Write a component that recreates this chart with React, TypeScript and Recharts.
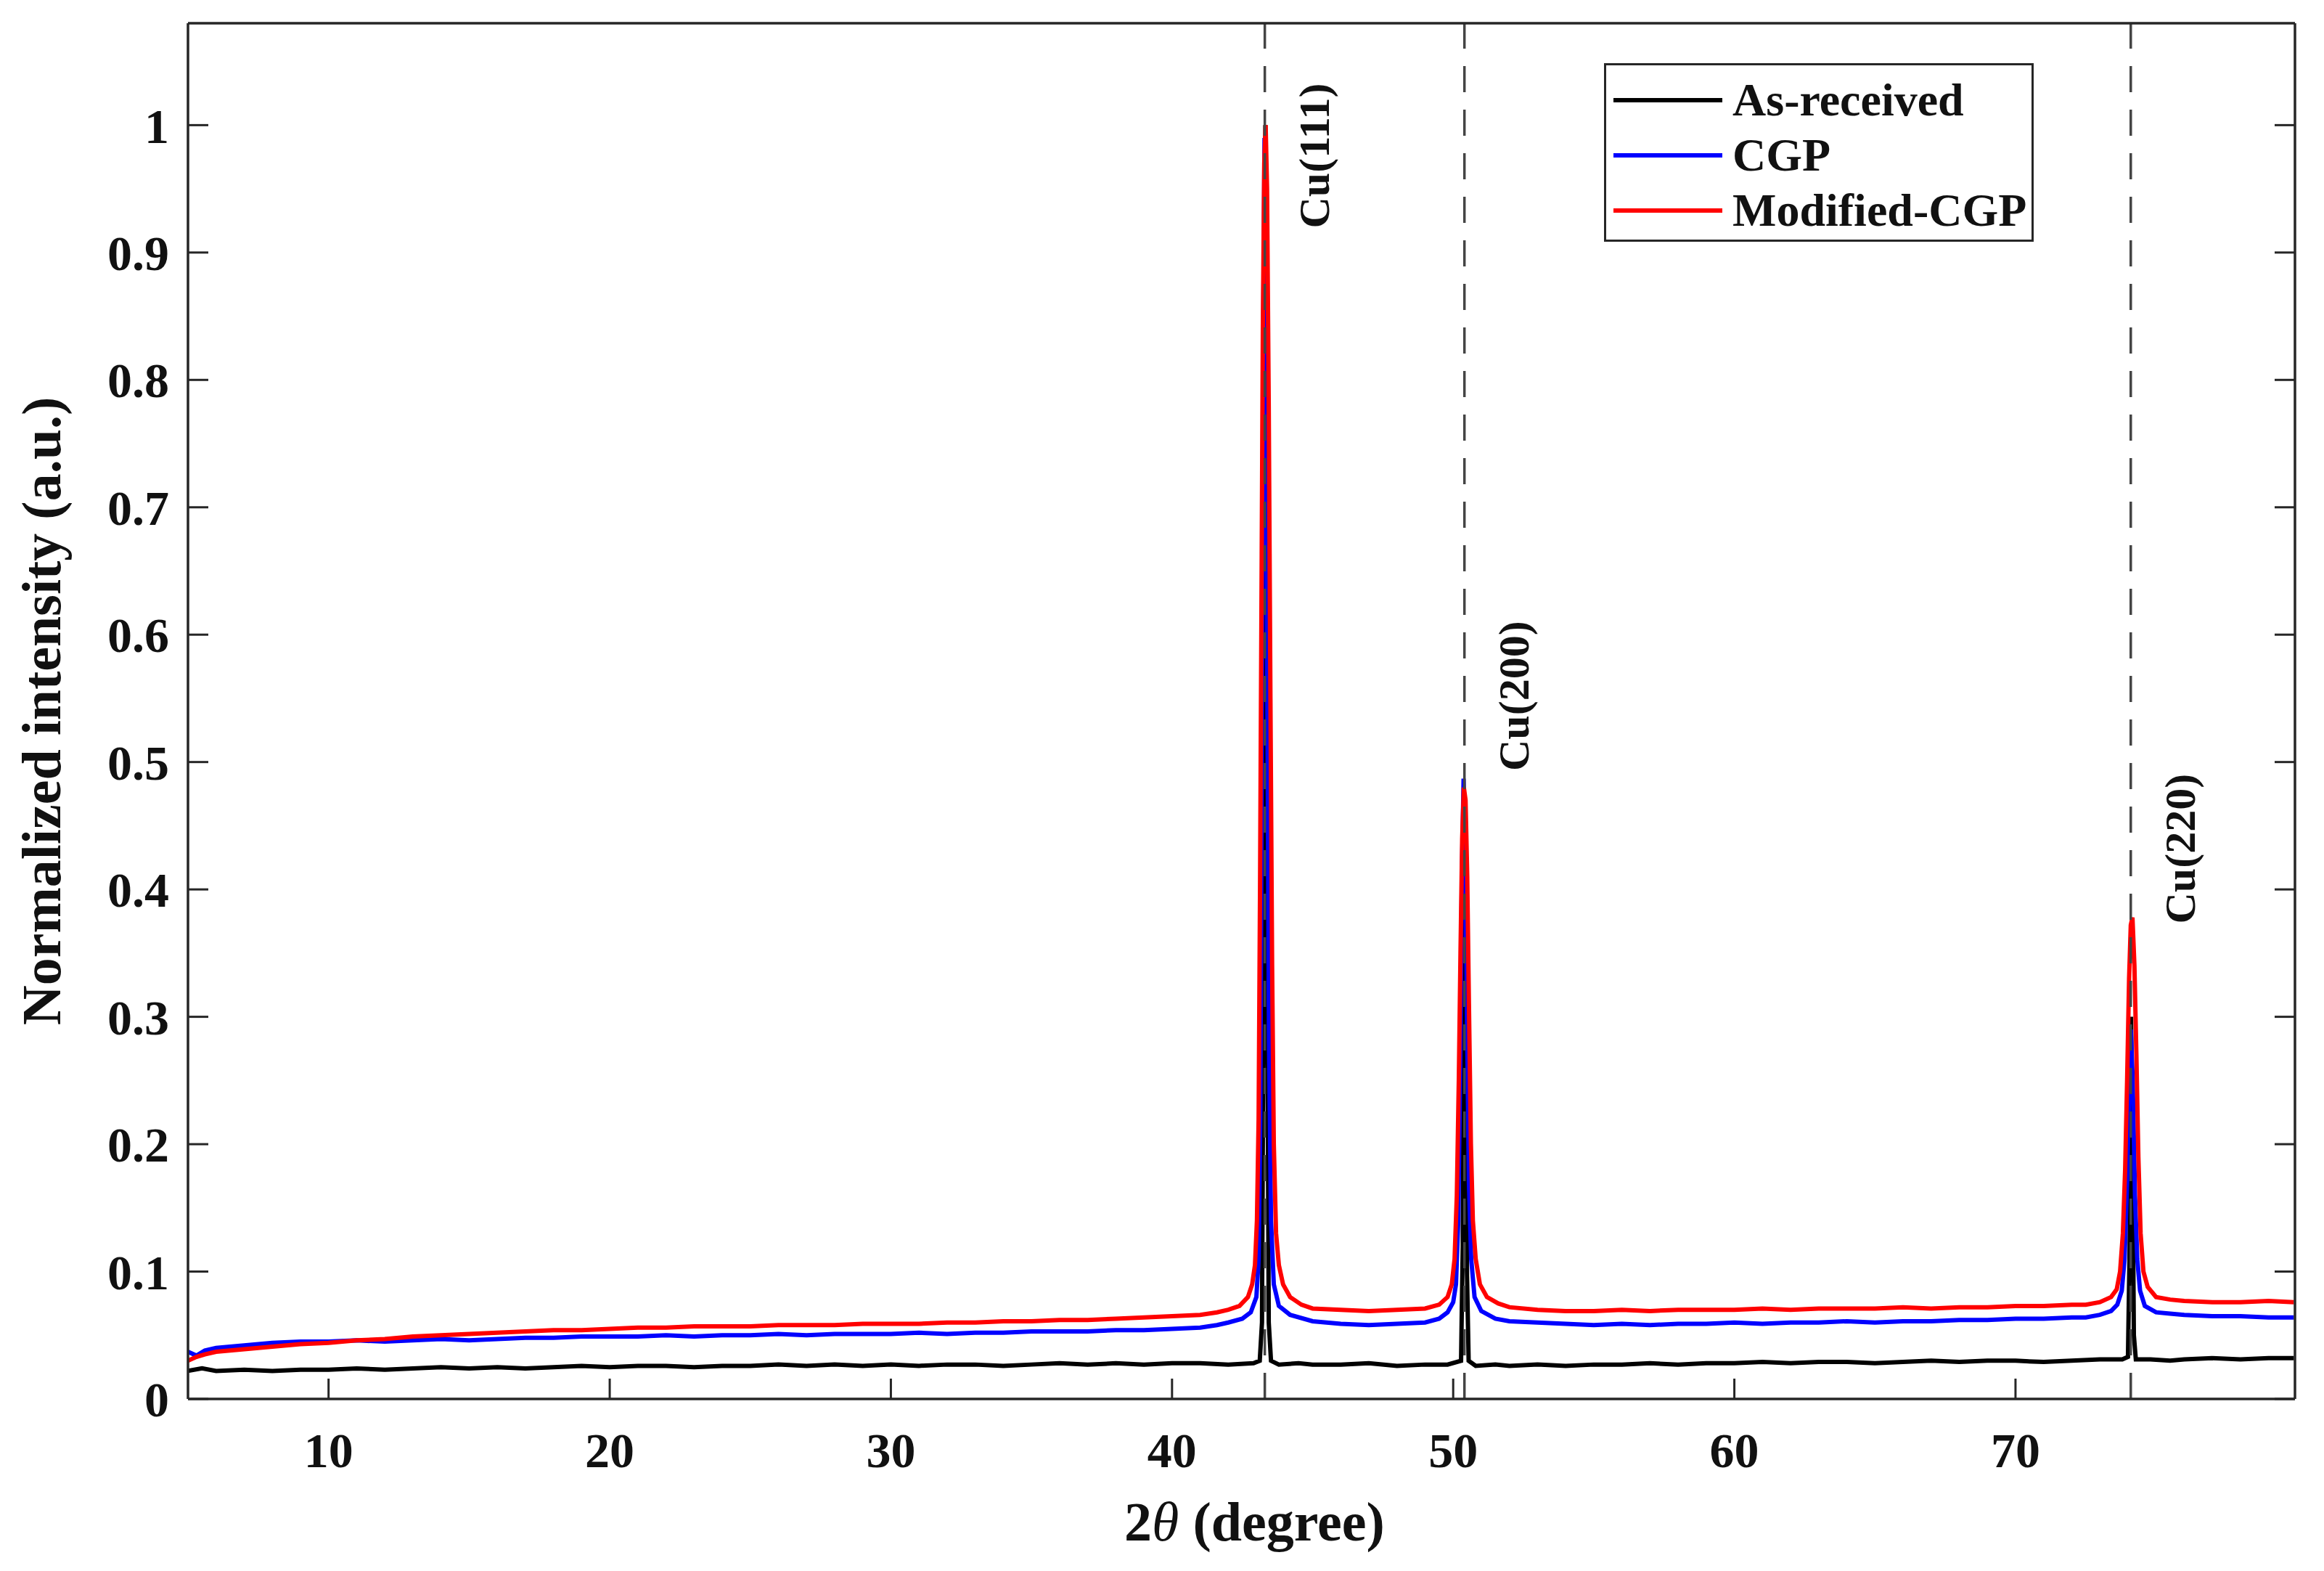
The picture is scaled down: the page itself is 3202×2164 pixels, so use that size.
import React from "react";
import { LineChart, Line, XAxis, YAxis, ReferenceLine, ReferenceDot, Legend } from "recharts";

const FONT = '"Liberation Serif", "Times New Roman", Times, serif';

// [2theta, normalized intensity]
const asReceived: [number, number][] = [
  [5, 0.022], [5.5, 0.024], [6, 0.022], [7, 0.023], [8, 0.022], [9, 0.023], [10, 0.023],
  [11, 0.024], [12, 0.023], [13, 0.024], [14, 0.025], [15, 0.024], [16, 0.025], [17, 0.024],
  [18, 0.025], [19, 0.026], [20, 0.025], [21, 0.026], [22, 0.026], [23, 0.025], [24, 0.026],
  [25, 0.026], [26, 0.027], [27, 0.026], [28, 0.027], [29, 0.026], [30, 0.027], [31, 0.026],
  [32, 0.027], [33, 0.027], [34, 0.026], [35, 0.027], [36, 0.028], [37, 0.027], [38, 0.028],
  [39, 0.027], [40, 0.028], [41, 0.028], [42, 0.027], [42.9, 0.028], [43.12, 0.03],
  [43.2, 0.06], [43.25, 0.3], [43.29, 0.8], [43.32, 1.0], [43.35, 0.8], [43.39, 0.3],
  [43.44, 0.06], [43.52, 0.03], [43.8, 0.027], [44.5, 0.028], [45, 0.027], [46, 0.027],
  [47, 0.028], [48, 0.026], [49, 0.027], [49.8, 0.027], [50.28, 0.03], [50.34, 0.12],
  [50.39, 0.42], [50.44, 0.35], [50.49, 0.1], [50.55, 0.03], [50.8, 0.026], [51.5, 0.027],
  [52, 0.026], [53, 0.027], [54, 0.026], [55, 0.027], [56, 0.027], [57, 0.028], [58, 0.027],
  [59, 0.028], [60, 0.028], [61, 0.029], [62, 0.028], [63, 0.029], [64, 0.029], [65, 0.028],
  [66, 0.029], [67, 0.03], [68, 0.029], [69, 0.03], [70, 0.03], [71, 0.029], [72, 0.03],
  [73, 0.031], [73.8, 0.031], [74.0, 0.033], [74.06, 0.12], [74.11, 0.3], [74.16, 0.2],
  [74.21, 0.05], [74.28, 0.031], [74.8, 0.031], [75.5, 0.03], [76, 0.031], [77, 0.032],
  [78, 0.031], [79, 0.032], [79.9, 0.032],
];

const cgp: [number, number][] = [
  [5, 0.037], [5.3, 0.034], [5.6, 0.038], [6, 0.04], [7, 0.042], [8, 0.044], [9, 0.045],
  [10, 0.045], [11, 0.046], [12, 0.045], [13, 0.046], [14, 0.047], [15, 0.046], [16, 0.047],
  [17, 0.048], [18, 0.048], [19, 0.049], [20, 0.049], [21, 0.049], [22, 0.05], [23, 0.049],
  [24, 0.05], [25, 0.05], [26, 0.051], [27, 0.05], [28, 0.051], [29, 0.051], [30, 0.051],
  [31, 0.052], [32, 0.051], [33, 0.052], [34, 0.052], [35, 0.053], [36, 0.053], [37, 0.053],
  [38, 0.054], [39, 0.054], [40, 0.055], [41, 0.056], [41.6, 0.058], [42, 0.06], [42.5, 0.063],
  [42.8, 0.068], [43.0, 0.08], [43.08, 0.11], [43.14, 0.22], [43.19, 0.5], [43.24, 0.82],
  [43.29, 0.99], [43.34, 0.86], [43.39, 0.55], [43.45, 0.28], [43.52, 0.14], [43.62, 0.09],
  [43.8, 0.073], [44.2, 0.066], [45, 0.061], [46, 0.059], [47, 0.058], [48, 0.059], [49, 0.06],
  [49.5, 0.063], [49.8, 0.068], [50.0, 0.076], [50.1, 0.09], [50.18, 0.14], [50.25, 0.26],
  [50.31, 0.41], [50.37, 0.487], [50.43, 0.43], [50.49, 0.3], [50.56, 0.17], [50.64, 0.11],
  [50.76, 0.08], [51.0, 0.069], [51.5, 0.063], [52, 0.061], [53, 0.06], [54, 0.059],
  [55, 0.058], [56, 0.059], [57, 0.058], [58, 0.059], [59, 0.059], [60, 0.06], [61, 0.059],
  [62, 0.06], [63, 0.06], [64, 0.061], [65, 0.06], [66, 0.061], [67, 0.061], [68, 0.062],
  [69, 0.062], [70, 0.063], [71, 0.063], [72, 0.064], [72.5, 0.064], [73, 0.066], [73.4, 0.069],
  [73.62, 0.074], [73.78, 0.085], [73.88, 0.11], [73.97, 0.17], [74.04, 0.24], [74.1, 0.29],
  [74.17, 0.25], [74.25, 0.16], [74.33, 0.11], [74.43, 0.085], [74.6, 0.073], [75, 0.068],
  [75.5, 0.067], [76, 0.066], [77, 0.065], [78, 0.065], [79, 0.064], [79.9, 0.064],
];

const modifiedCgp: [number, number][] = [
  [5, 0.03], [5.3, 0.033], [5.6, 0.035], [6, 0.037], [7, 0.039], [8, 0.041], [9, 0.043],
  [10, 0.044], [11, 0.046], [12, 0.047], [13, 0.049], [14, 0.05], [15, 0.051], [16, 0.052],
  [17, 0.053], [18, 0.054], [19, 0.054], [20, 0.055], [21, 0.056], [22, 0.056], [23, 0.057],
  [24, 0.057], [25, 0.057], [26, 0.058], [27, 0.058], [28, 0.058], [29, 0.059], [30, 0.059],
  [31, 0.059], [32, 0.06], [33, 0.06], [34, 0.061], [35, 0.061], [36, 0.062], [37, 0.062],
  [38, 0.063], [39, 0.064], [40, 0.065], [41, 0.066], [41.6, 0.068], [42.0, 0.07], [42.4, 0.073],
  [42.7, 0.08], [42.85, 0.09], [42.95, 0.105], [43.02, 0.14], [43.08, 0.22], [43.13, 0.4],
  [43.18, 0.62], [43.23, 0.84], [43.28, 0.97], [43.33, 1.0], [43.38, 0.95], [43.44, 0.78],
  [43.5, 0.55], [43.56, 0.34], [43.62, 0.2], [43.7, 0.13], [43.8, 0.105], [43.95, 0.09],
  [44.2, 0.08], [44.6, 0.074], [45, 0.071], [46, 0.07], [47, 0.069], [48, 0.07], [49, 0.071],
  [49.5, 0.074], [49.8, 0.08], [49.95, 0.09], [50.05, 0.11], [50.13, 0.16], [50.2, 0.25],
  [50.26, 0.35], [50.32, 0.44], [50.38, 0.48], [50.44, 0.47], [50.5, 0.41], [50.56, 0.31],
  [50.63, 0.2], [50.7, 0.14], [50.8, 0.11], [50.95, 0.09], [51.2, 0.08], [51.6, 0.075],
  [52, 0.072], [53, 0.07], [54, 0.069], [55, 0.069], [56, 0.07], [57, 0.069], [58, 0.07],
  [59, 0.07], [60, 0.07], [61, 0.071], [62, 0.07], [63, 0.071], [64, 0.071], [65, 0.071],
  [66, 0.072], [67, 0.071], [68, 0.072], [69, 0.072], [70, 0.073], [71, 0.073], [72, 0.074],
  [72.5, 0.074], [73, 0.076], [73.4, 0.08], [73.6, 0.086], [73.72, 0.1], [73.82, 0.13],
  [73.9, 0.18], [73.97, 0.25], [74.04, 0.33], [74.1, 0.372], [74.16, 0.378], [74.23, 0.34],
  [74.3, 0.27], [74.37, 0.19], [74.45, 0.13], [74.55, 0.1], [74.7, 0.088], [75, 0.08],
  [75.5, 0.078], [76, 0.077], [77, 0.076], [78, 0.076], [79, 0.077], [79.9, 0.076],
];

const xTicks = [10, 20, 30, 40, 50, 60, 70];
const yTicks = [0, 0.1, 0.2, 0.3, 0.4, 0.5, 0.6, 0.7, 0.8, 0.9, 1];

const peakPositions = [43.3, 50.4, 74.1];
const peakNames = ["Cu(111)", "Cu(200)", "Cu(220)"];
const peakLabelStart = [0.919, 0.493, 0.373];

const X_DOMAIN: [number, number] = [5, 79.94];
const Y_DOMAIN: [number, number] = [0, 1.08];
const AXIS = "#262626";
const TICK = -28;

const toPoints = (arr: [number, number][]) => arr.map(([x, y]) => ({ x, y }));

const tickStyle = { fill: "#111", fontSize: 68, fontFamily: FONT, fontWeight: 700 };

function PeakLabel(props: any) {
  const { cx, cy, text } = props;
  const x = cx + 88;
  return (
    <text
      x={x}
      y={cy}
      transform={`rotate(-90 ${x} ${cy})`}
      fontFamily={FONT}
      fontWeight={700}
      fontSize={60}
      fill="#111"
      textAnchor="start"
    >
      {text}
    </text>
  );
}

function LegendBox(props: any) {
  const items = props.payload || [];
  return (
    <div
      style={{
        width: 592,
        height: 246,
        boxSizing: "border-box",
        border: `3px solid ${AXIS}`,
        background: "#fff",
        position: "relative",
        fontFamily: FONT,
        fontWeight: 700,
        fontSize: 64,
        color: "#111",
      }}
    >
      {items.map((it: any, i: number) => (
        <div
          key={it.value}
          style={{
            position: "absolute",
            left: 0,
            top: 8 + i * 76,
            height: 80,
            display: "flex",
            alignItems: "center",
            whiteSpace: "nowrap",
          }}
        >
          <div style={{ marginLeft: 10, width: 150, height: 6, background: it.color }} />
          <span style={{ marginLeft: 14, lineHeight: 1 }}>{it.value}</span>
        </div>
      ))}
    </div>
  );
}

export default function App() {
  return (
    <div style={{ position: "absolute", left: 0, top: 0, background: "#fff" }}>
      <LineChart width={3202} height={2164} margin={{ top: 31, right: 39, bottom: 0, left: 0 }}>
        <XAxis
          xAxisId="b"
          type="number"
          dataKey="x"
          domain={X_DOMAIN}
          allowDataOverflow
          ticks={xTicks}
          height={237}
          axisLine={{ stroke: AXIS, strokeWidth: 3.5 }}
          tickLine={{ stroke: AXIS, strokeWidth: 3 }}
          tickSize={TICK}
          tickMargin={74}
          tick={tickStyle}
          label={{
            content: (p: any) => {
              const vb = p.viewBox;
              return (
                <text
                  x={vb.x + vb.width / 2 + 18}
                  y={vb.y + 195}
                  textAnchor="middle"
                  fontFamily={FONT}
                  fontWeight={700}
                  fontSize={76}
                  fill="#111"
                >
                  2<tspan fontStyle="italic" fontWeight={400}>θ</tspan> (degree)
                </text>
              );
            },
          }}
        />
        <XAxis
          xAxisId="t"
          orientation="top"
          type="number"
          domain={X_DOMAIN}
          allowDataOverflow
          ticks={xTicks}
          height={1}
          axisLine={{ stroke: AXIS, strokeWidth: 3.5 }}
          tickLine={{ stroke: AXIS, strokeWidth: 3 }}
          tickSize={TICK}
          tick={() => <g />}
        />
        <YAxis
          yAxisId="l"
          type="number"
          domain={Y_DOMAIN}
          allowDataOverflow
          ticks={yTicks}
          width={259}
          axisLine={{ stroke: AXIS, strokeWidth: 3.5 }}
          tickLine={{ stroke: AXIS, strokeWidth: 3 }}
          tickSize={TICK}
          tickMargin={54}
          tick={tickStyle}
          label={{
            content: (p: any) => {
              const vb = p.viewBox;
              const x = vb.x + 83;
              const y = vb.y + vb.height / 2;
              return (
                <text
                  x={x}
                  y={y}
                  transform={`rotate(-90 ${x} ${y})`}
                  textAnchor="middle"
                  fontFamily={FONT}
                  fontWeight={700}
                  fontSize={76}
                  fill="#111"
                >
                  Normalized intensity (a.u.)
                </text>
              );
            },
          }}
        />
        <YAxis
          yAxisId="r"
          orientation="right"
          type="number"
          domain={Y_DOMAIN}
          allowDataOverflow
          ticks={yTicks}
          width={1}
          axisLine={{ stroke: AXIS, strokeWidth: 3.5 }}
          tickLine={{ stroke: AXIS, strokeWidth: 3 }}
          tickSize={TICK}
          tick={() => <g />}
        />

        <Line
          data={toPoints(asReceived)}
          dataKey="y"
          name="As-received"
          xAxisId="b"
          yAxisId="l"
          type="linear"
          stroke="#000000"
          strokeWidth={6}
          dot={false}
          isAnimationActive={false}
        />
        <Line
          data={toPoints(cgp)}
          dataKey="y"
          name="CGP"
          xAxisId="b"
          yAxisId="l"
          type="linear"
          stroke="#0000ff"
          strokeWidth={6}
          dot={false}
          isAnimationActive={false}
        />
        <Line
          data={toPoints(modifiedCgp)}
          dataKey="y"
          name="Modified-CGP"
          xAxisId="b"
          yAxisId="l"
          type="linear"
          stroke="#ff0000"
          strokeWidth={6}
          dot={false}
          isAnimationActive={false}
        />

        {peakPositions.map((p) => (
          <ReferenceLine
            key={`line-${p}`}
            x={p}
            xAxisId="b"
            yAxisId="l"
            stroke="#444"
            strokeWidth={3.5}
            strokeDasharray="36 24"
          />
        ))}
        {peakPositions.map((p, i) => (
          <ReferenceDot
            key={`lab-${p}`}
            x={p}
            y={peakLabelStart[i]}
            xAxisId="b"
            yAxisId="l"
            shape={(sp: any) => <PeakLabel {...sp} text={peakNames[i]} />}
          />
        ))}

        <Legend
          layout="vertical"
          align="center"
          verticalAlign="middle"
          wrapperStyle={{ position: "absolute", left: 2210, top: 87, width: 592, height: 246 }}
          content={(p: any) => <LegendBox {...p} />}
        />
      </LineChart>
    </div>
  );
}
